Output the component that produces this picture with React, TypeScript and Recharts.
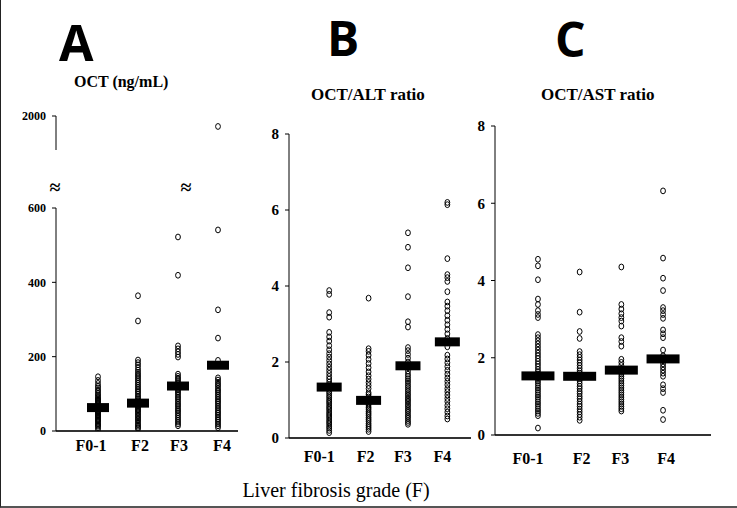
import { Scatter, ScatterChart, XAxis, YAxis } from "recharts";

const grades = ["F0-1", "F2", "F3", "F4"];

// A: OCT (ng/mL)
const octF01 = [4, 9, 13, 16, 19, 23, 26, 29, 31, 34, 37, 40, 42, 45, 48, 50, 53, 55, 58, 61, 63, 66, 68, 71, 74, 77, 80, 83, 86, 89, 93, 97, 101, 106, 110, 116, 121, 128, 136, 146];
const octF2 = [6, 9, 13, 17, 21, 26, 30, 34, 38, 42, 46, 50, 54, 57, 61, 64, 68, 71, 74, 78, 82, 86, 90, 94, 99, 104, 108, 113, 118, 123, 128, 133, 138, 143, 148, 153, 158, 164, 171, 178, 184, 191, 296, 364];
const octF3 = [14, 19, 24, 29, 34, 39, 44, 49, 54, 58, 63, 68, 72, 77, 82, 87, 91, 96, 101, 105, 110, 114, 119, 124, 128, 133, 138, 142, 147, 153, 199, 206, 213, 221, 229, 419, 522];
const octF4 = [9, 14, 19, 24, 29, 33, 38, 43, 48, 52, 57, 62, 67, 72, 77, 81, 86, 91, 96, 101, 106, 110, 115, 121, 126, 131, 137, 143, 190, 250, 326, 541, 1972];
const octMedians = [63, 75, 121, 177];
const octTicksLow = [0, 200, 400, 600];
const octTicksHigh = [2000];

// B: OCT/ALT ratio
const altF01 = [0.14, 0.2, 0.26, 0.31, 0.37, 0.42, 0.47, 0.53, 0.58, 0.63, 0.68, 0.74, 0.79, 0.84, 0.9, 0.95, 1.0, 1.06, 1.11, 1.17, 1.22, 1.28, 1.34, 1.4, 1.47, 1.55, 1.62, 1.7, 1.78, 1.86, 1.95, 2.04, 2.13, 2.22, 2.32, 2.43, 2.55, 2.66, 2.78, 3.18, 3.3, 3.78, 3.88];
const altF2 = [0.17, 0.23, 0.28, 0.33, 0.38, 0.44, 0.49, 0.54, 0.6, 0.65, 0.7, 0.76, 0.81, 0.87, 0.92, 0.97, 1.03, 1.08, 1.14, 1.19, 1.3, 1.38, 1.46, 1.55, 1.64, 1.74, 1.85, 1.96, 2.07, 2.18, 2.28, 2.35, 3.68];
const altF3 = [0.36, 0.41, 0.46, 0.52, 0.57, 0.62, 0.68, 0.73, 0.78, 0.84, 0.89, 0.95, 1.0, 1.05, 1.11, 1.16, 1.22, 1.27, 1.33, 1.38, 1.44, 1.5, 1.56, 1.62, 1.68, 1.76, 1.85, 2.0, 2.1, 2.2, 2.3, 2.38, 2.92, 3.06, 3.72, 4.48, 5.02, 5.4];
const altF4 = [0.5, 0.58, 0.68, 0.77, 0.86, 0.96, 1.04, 1.13, 1.22, 1.3, 1.4, 1.49, 1.58, 1.68, 1.78, 1.88, 1.98, 2.08, 2.18, 2.4, 2.62, 2.74, 2.86, 2.98, 3.1, 3.22, 3.35, 3.47, 3.58, 3.85, 4.12, 4.22, 4.3, 4.72, 6.14, 6.2];
const altMedians = [1.34, 0.99, 1.9, 2.53];

// C: OCT/AST ratio
const astF01 = [0.18, 0.5, 0.56, 0.62, 0.68, 0.74, 0.8, 0.86, 0.92, 0.98, 1.04, 1.1, 1.16, 1.22, 1.28, 1.34, 1.4, 1.46, 1.52, 1.58, 1.64, 1.7, 1.77, 1.84, 1.91, 1.98, 2.05, 2.12, 2.2, 2.28, 2.36, 2.44, 2.52, 2.6, 3.04, 3.12, 3.22, 3.38, 3.52, 4.02, 4.38, 4.55];
const astF2 = [0.38, 0.46, 0.53, 0.6, 0.67, 0.74, 0.8, 0.87, 0.94, 1.0, 1.07, 1.13, 1.2, 1.26, 1.33, 1.4, 1.46, 1.53, 1.6, 1.66, 1.73, 1.8, 1.87, 1.94, 2.01, 2.08, 2.16, 2.5, 2.68, 3.18, 4.22];
const astF3 = [0.62, 0.68, 0.74, 0.8, 0.86, 0.92, 0.98, 1.04, 1.1, 1.16, 1.22, 1.28, 1.34, 1.4, 1.46, 1.52, 1.58, 1.64, 1.72, 1.8, 1.88, 1.96, 2.3, 2.42, 2.52, 2.82, 2.95, 3.04, 3.14, 3.26, 3.38, 4.35];
const astF4 = [0.4, 0.64, 1.1, 1.2, 1.3, 1.52, 1.6, 1.68, 1.76, 1.84, 1.92, 2.05, 2.2, 2.52, 2.62, 2.72, 3.02, 3.12, 3.22, 3.3, 3.74, 4.06, 4.58, 6.32];
const astMedians = [1.53, 1.52, 1.68, 1.97];

const ratioTicks = [0, 2, 4, 6, 8];

const toPoints = (groups: number[][]) =>
  groups.flatMap((vals, i) => vals.map((v) => ({ x: i, y: v })));

const octPoints = toPoints([octF01, octF2, octF3, octF4]);
const altPoints = toPoints([altF01, altF2, altF3, altF4]);
const astPoints = toPoints([astF01, astF2, astF3, astF4]);

const serif = "'Liberation Serif', 'Times New Roman', serif";

const OpenDot = (p: any) => (
  <ellipse cx={p.cx} cy={p.cy} rx={2.4} ry={2.9} fill="none" stroke="#000" strokeWidth={1} />
);

const medianBar = (w: number) => (p: any) =>
  <rect x={p.cx - w / 2} y={p.cy - 4.5} width={w} height={9} fill="#000" />;

const GradeTick = (props: any) => {
  const { x, y, payload, shifts, dy } = props;
  const i = payload.value as number;
  return (
    <text x={x + shifts[i]} y={y + dy} textAnchor="middle" fontFamily={serif} fontWeight="bold" fontSize={16} fill="#000">
      {grades[i]}
    </text>
  );
};

interface PanelProps {
  plotLeft: number;
  plotTop: number;
  plotW: number;
  plotH: number;
  xDomain: number[];
  yDomain: number[];
  yTicks: number[];
  points: { x: number; y: number }[];
  medians?: number[];
  barW?: number;
  tickFontSize: number;
  showX?: boolean;
  shifts?: number[];
  labelDy?: number;
}

const yAxisW = 40;

const Panel = ({ plotLeft, plotTop, plotW, plotH, xDomain, yDomain, yTicks, points, medians, barW = 24, tickFontSize, showX = true, shifts = [0, 0, 0, 0], labelDy = 20 }: PanelProps) => {
  const xH = showX ? 42 : 0;
  return (
    <div style={{ position: "absolute", left: plotLeft - yAxisW, top: plotTop - 10 }}>
      <ScatterChart width={yAxisW + plotW + 10} height={10 + plotH + xH} margin={{ top: 10, right: 10, left: 0, bottom: 0 }}>
        <XAxis
          type="number"
          dataKey="x"
          domain={xDomain}
          ticks={[0, 1, 2, 3]}
          allowDataOverflow
          hide={!showX}
          height={xH}
          interval={0}
          tickSize={0}
          tickMargin={0}
          tickLine={false}
          axisLine={{ stroke: "#333", strokeWidth: 2 }}
          tick={(p: any) => <GradeTick {...p} shifts={shifts} dy={labelDy} />}
        />
        <YAxis
          type="number"
          dataKey="y"
          domain={yDomain}
          ticks={yTicks}
          interval={0}
          allowDataOverflow
          width={yAxisW}
          tickSize={4}
          tickMargin={6}
          axisLine={{ stroke: "#000", strokeWidth: 1 }}
          tickLine={{ stroke: "#000" }}
          tick={{ fill: "#000", fontFamily: serif, fontWeight: "bold", fontSize: tickFontSize }}
        />
        <Scatter data={points} shape={OpenDot} isAnimationActive={false} />
        {medians && (
          <Scatter data={medians.map((m, i) => ({ x: i, y: m }))} shape={medianBar(barW)} isAnimationActive={false} />
        )}
      </ScatterChart>
    </div>
  );
};

export default function App() {
  return (
    <div
      style={{
        position: "absolute",
        left: 0,
        top: 0,
        width: 737,
        height: 508,
        boxSizing: "border-box",
        borderLeft: "1.5px solid #222",
        borderBottom: "2px solid #555",
        background: "#fff",
        overflow: "hidden",
      }}
    >
      {/* Panel A: broken axis, upper part */}
      <Panel
        plotLeft={55}
        plotTop={116}
        plotW={182}
        plotH={34}
        xDomain={[-1.05, 3.5]}
        yDomain={[1909, 2000]}
        yTicks={octTicksHigh}
        points={octPoints.filter((p) => p.y > 600)}
        tickFontSize={12}
        showX={false}
      />
      {/* Panel A: lower part */}
      <Panel
        plotLeft={55}
        plotTop={208}
        plotW={182}
        plotH={223}
        xDomain={[-1.05, 3.5]}
        yDomain={[0, 600]}
        yTicks={octTicksLow}
        points={octPoints.filter((p) => p.y <= 600)}
        medians={octMedians}
        barW={22}
        tickFontSize={12}
        shifts={[-7, 2, 1, 4]}
        labelDy={20}
      />
      <Panel
        plotLeft={288}
        plotTop={134}
        plotW={182}
        plotH={304}
        xDomain={[-1.02, 3.6]}
        yDomain={[0, 8]}
        yTicks={ratioTicks}
        points={altPoints}
        medians={altMedians}
        barW={25}
        tickFontSize={15}
        shifts={[-10, -3, -5, -5]}
        labelDy={24}
      />
      <Panel
        plotLeft={494}
        plotTop={126}
        plotW={216}
        plotH={309}
        xDomain={[-1.03, 4.15]}
        yDomain={[0, 8]}
        yTicks={ratioTicks}
        points={astPoints}
        medians={astMedians}
        barW={33}
        tickFontSize={15}
        shifts={[-10, 2, -1, 3]}
        labelDy={29}
      />
      <svg width={737} height={508} style={{ position: "absolute", left: 0, top: 0, pointerEvents: "none" }}>
        <text x={58} y={61} fontFamily="'Open Sans', sans-serif" fontWeight="bold" fontSize={50}>A</text>
        <text x={326} y={56} fontFamily="'Open Sans', sans-serif" fontWeight="bold" fontSize={48}>B</text>
        <text x={554} y={57} fontFamily="'Open Sans', sans-serif" fontWeight="bold" fontSize={48}>C</text>
        <text x={73} y={87} fontFamily={serif} fontWeight="bold" fontSize={16}>OCT (ng/mL)</text>
        <text x={310} y={100} fontFamily={serif} fontWeight="bold" fontSize={17}>OCT/ALT ratio</text>
        <text x={540} y={100} fontFamily={serif} fontWeight="bold" fontSize={17}>OCT/AST ratio</text>
        <text x={54} y={194} textAnchor="middle" fontFamily={serif} fontWeight="bold" fontSize={20}>≈</text>
        <text x={185} y={194} textAnchor="middle" fontFamily={serif} fontWeight="bold" fontSize={20}>≈</text>
        <text x={335} y={497} textAnchor="middle" fontFamily={serif} fontSize={20}>Liver fibrosis grade (F)</text>
      </svg>
    </div>
  );
}
